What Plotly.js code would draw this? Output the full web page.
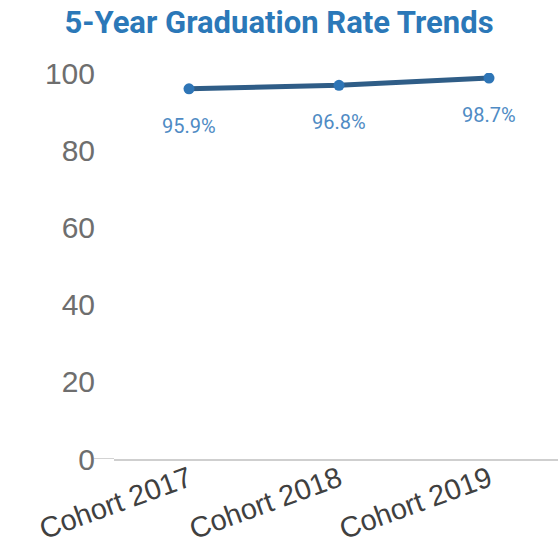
<!DOCTYPE html>
<html>
<head>
<meta charset="utf-8">
<script src="https://cdn.plot.ly/plotly-3.0.1.min.js"></script>
<style>html,body{margin:0;padding:0;background:#fff;}#chart{width:558px;height:545px;}</style>
</head>
<body>
<div id="chart"></div>
<script>
var categories = ["Cohort 2017", "Cohort 2018", "Cohort 2019"];
var rates = [95.9, 96.8, 98.7];
var rateLabels = ["95.9%", "96.8%", "98.7%"];
var yTicks = [0, 20, 40, 60, 80, 100];

var trace = {
  x: categories,
  y: rates,
  type: "scatter",
  mode: "lines+markers",
  line: {color: "#2f5d87", width: 5},
  marker: {color: "#2e75b6", size: 11},
  hoverinfo: "skip"
};

var annotations = categories.map(function(c, i){
  return {
    x: c, y: rates[i], xref: "x", yref: "y",
    text: rateLabels[i], showarrow: false, yshift: -37,
    font: {family: "Roboto, Arial, sans-serif", size: 20, color: "#4f8bc4"}
  };
});

var layout = {
  width: 558, height: 545,
  margin: {l: 114, r: 0, t: 73, b: 86},
  paper_bgcolor: "#fff", plot_bgcolor: "#fff",
  showlegend: false,
  title: {
    text: "<b>5-Year Graduation Rate Trends</b>",
    font: {family: "Roboto, Arial, sans-serif", size: 31, color: "#2b78b8"},
    x: 0.5, xanchor: "center", y: 0.96, yanchor: "middle"
  },
  xaxis: {
    type: "category",
    range: [-0.5, 2.46],
    showgrid: false,
    showline: true, linecolor: "#cfcfcf", linewidth: 2,
    ticks: "", ticklen: 0,
    ticklabelstandoff: -10,
    tickangle: -20,
    tickfont: {family: "Liberation Sans, Arial, sans-serif", size: 29, color: "#404040"},
    zeroline: false
  },
  yaxis: {
    range: [0, 100],
    tickvals: yTicks,
    showgrid: false,
    zeroline: false,
    showline: false,
    ticks: "", ticklen: 0,
    ticklabelstandoff: 18,
    tickfont: {family: "Liberation Sans, Arial, sans-serif", size: 30, color: "#6e6e6e"}
  },
  shapes: [{
    type: "line", xref: "paper", yref: "y",
    x0: -0.045, x1: 0, y0: 0, y1: 0,
    line: {color: "#c4c4c4", width: 1.5}
  }],
  annotations: annotations
};

Plotly.newPlot("chart", [trace], layout, {displayModeBar: false, staticPlot: true});
</script>
</body>
</html>
